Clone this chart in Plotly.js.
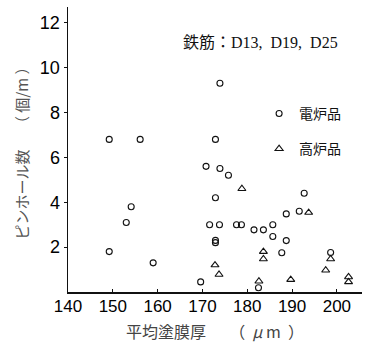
<!DOCTYPE html>
<html>
<head>
<meta charset="utf-8">
<script src="https://cdn.plot.ly/plotly-3.0.1.min.js"></script>
<style>html,body{margin:0;padding:0;background:#fff;}#chart{width:365px;height:345px;}</style>
</head>
<body>
<div id="chart"></div>
<script>
// 電炉品 (electric furnace)
const denroX = [149.2, 149.2, 153.0, 154.1, 156.1, 159.0, 169.6, 170.8, 171.6, 172.9, 172.9, 172.9, 172.9, 173.9, 173.9, 173.8, 175.8, 177.6, 178.7, 181.5, 183.6, 182.5, 185.7, 185.7, 187.7, 188.7, 188.7, 191.6, 192.7, 198.6];
const denroY = [1.8, 6.8, 3.1, 3.8, 6.8, 1.3, 0.45, 5.6, 3.0, 6.8, 4.2, 2.3, 2.2, 9.3, 5.5, 3.0, 5.2, 3.0, 3.0, 2.77, 2.77, 0.19, 3.0, 2.47, 1.75, 3.48, 2.29, 3.6, 4.4, 1.76];
// 高炉品 (blast furnace)
const kouroX = [178.8, 172.8, 173.7, 182.6, 183.6, 183.6, 189.7, 193.7, 197.5, 198.6, 202.6, 202.6];
const kouroY = [4.6, 1.2, 0.78, 0.48, 1.8, 1.47, 0.55, 3.54, 0.97, 1.47, 0.67, 0.45];

const seriesNames = ['電炉品', '高炉品'];
const xTicks = [140, 150, 160, 170, 180, 190, 200];
const yTicks = [2, 4, 6, 8, 10, 12];

const cjk = '"Noto Sans CJK JP", sans-serif';
const traces = [
  {x: denroX, y: denroY, type: 'scatter', mode: 'markers', name: seriesNames[0], legendgroup: 'a',
   marker: {symbol: 'circle-open', size: 6, color: '#111', line: {width: 1.1, color: '#111'}}},
  {x: kouroX, y: kouroY, type: 'scatter', mode: 'markers', name: seriesNames[1], legendgroup: 'b',
   marker: {symbol: 'triangle-up-open', size: 7, color: '#111', line: {width: 1.1, color: '#111'}}}
];

const layout = {
  width: 365, height: 345,
  margin: {l: 68, r: 3, t: 7, b: 53},
  paper_bgcolor: '#fff', plot_bgcolor: '#fff',
  showlegend: true,
  legend: {x: 0.65, y: 0.681, xanchor: 'left', yanchor: 'top', traceorder: 'grouped', tracegroupgap: 14,
           itemwidth: 30, font: {family: cjk, size: 14, color: '#111'}, bgcolor: 'rgba(0,0,0,0)'},
  xaxis: {range: [140, 205.6], tickvals: xTicks, ticktext: xTicks.map(String), showgrid: false, zeroline: false,
          showline: true, linecolor: '#111', linewidth: 1.5, ticks: 'inside', ticklen: 3, tickcolor: '#111',
          ticklabelstandoff: -2,
          tickfont: {family: '"Liberation Sans", Arial, sans-serif', size: 17, color: '#000'},
          title: {text: '平均塗膜厚　  （  <i>μ</i> m  ）', font: {family: cjk, size: 16, color: '#444'}, standoff: 12}},
  yaxis: {range: [0, 12.7], tickvals: yTicks, ticktext: yTicks.map(String), showgrid: false, zeroline: false,
          showline: true, linecolor: '#111', linewidth: 1.5, ticks: 'outside', ticklen: 3, tickcolor: '#111',
          tickfont: {family: '"Liberation Sans", Arial, sans-serif', size: 18, color: '#000'},
          title: {text: 'ピンホール数　 （ 個/m ）', font: {family: cjk, size: 15, color: '#555'}, standoff: 7}},
  annotations: [
    {text: '鉄筋：D13,  D19,  D25', xref: 'paper', yref: 'paper', x: 0.656, y: 0.877, showarrow: false,
     xanchor: 'center', yanchor: 'middle', font: {family: '"Liberation Serif", "Noto Sans CJK JP", serif', size: 16, color: '#111'}}
  ]
};

Plotly.newPlot('chart', traces, layout, {displayModeBar: false, staticPlot: true});
</script>
</body>
</html>
